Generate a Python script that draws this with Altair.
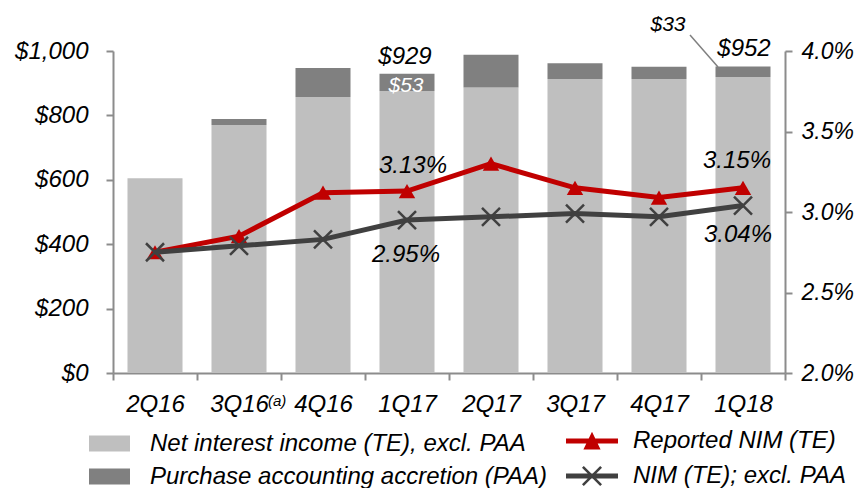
import altair as alt
import pandas as pd

# ---------------- data ----------------
quarters = ["2Q16", "3Q16", "4Q16", "1Q17", "2Q17", "3Q17", "4Q17", "1Q18"]
footnotes = ["", "(a)", "", "", "", "", "", ""]
nii = [605, 770, 857, 876, 887, 913, 913, 919]          # Net interest income (TE), excl. PAA ($M)
paa = [0, 19, 90, 53, 101, 49, 38, 33]                  # Purchase accounting accretion ($M)
nim_reported = [2.75, 2.85, 3.12, 3.13, 3.30, 3.15, 3.09, 3.15]
nim_excl = [2.75, 2.79, 2.83, 2.95, 2.97, 2.99, 2.97, 3.04]

bar_names = ["Net interest income (TE), excl. PAA", "Purchase accounting accretion (PAA)"]
line_names = ["Reported NIM (TE)", "NIM (TE); excl. PAA"]

df = pd.DataFrame({"quarter": quarters, "note": footnotes, "nii": nii, "paa": paa,
                   "rep": nim_reported, "exc": nim_excl})
df["total"] = df["nii"] + df["paa"]

bars_df = pd.DataFrame({
    "quarter": quarters * 2,
    "component": [bar_names[0]] * len(quarters) + [bar_names[1]] * len(quarters),
    "value": nii + paa,
    "ord": [0] * len(quarters) + [1] * len(quarters),
})
legend_df = pd.DataFrame({"series": line_names})

# ---------------- style ----------------
FONT = "Liberation Sans"
RED = "#C00000"
DARK = "#404040"
LIGHT = "#BFBFBF"
MID = "#808080"
AXC = "#8C8C8C"
FS = 24

x_enc = alt.X(
    "quarter:N", sort=quarters, title=None,
    scale=alt.Scale(paddingInner=0, paddingOuter=0),
    axis=alt.Axis(tickBand="extent", labelAngle=0, labelFont=FONT, labelFontSize=FS,
                  labelFontStyle="italic", labelColor="black", labelPadding=12,
                  tickSize=7, tickWidth=2, tickColor=AXC, domainColor=AXC, domainWidth=2),
)

sc_left = alt.Scale(domain=[0, 1000], nice=False)
ax_left = alt.Axis(values=[0, 200, 400, 600, 800, 1000], format="$,.0f", orient="left",
                   grid=False, labelFont=FONT, labelFontSize=FS, labelFontStyle="italic",
                   labelColor="black", labelPadding=18, tickSize=7, tickWidth=2,
                   tickColor=AXC, domainColor=AXC, domainWidth=2)

sc_right = alt.Scale(domain=[2, 4], nice=False, zero=False)
ax_right = alt.Axis(values=[2, 2.5, 3, 3.5, 4], labelExpr="format(datum.value, '.1f') + '%'",
                    orient="right", grid=False, labelFont=FONT, labelFontSize=23,
                    labelFontStyle="italic", labelColor="black", labelPadding=9,
                    tickSize=7, tickWidth=2, tickColor=AXC, domainColor=AXC, domainWidth=2)


def yl(field):
    return alt.Y(field, scale=sc_left, axis=ax_left, title=None)


def yr(field):
    return alt.Y(field, scale=sc_right, axis=ax_right, title=None)


# ---------------- left (bars, $) ----------------
bars = alt.Chart(bars_df).mark_bar(width=alt.RelativeBandSize(0.655)).encode(
    x=x_enc,
    y=alt.Y("value:Q", stack="zero", scale=sc_left, axis=ax_left, title=None),
    color=alt.Color("component:N", scale=alt.Scale(domain=bar_names, range=[LIGHT, MID]),
                    legend=alt.Legend(title=None, orient="none", legendX=-24, legendY=372,
                                      direction="vertical", padding=0,
                                      symbolType="M-1,-0.39H1V0.39H-1Z", symbolSize=1681,
                                      symbolStrokeWidth=0, labelFont=FONT, labelFontSize=FS,
                                      labelFontStyle="italic", labelColor="black",
                                      labelOffset=20, labelLimit=600, rowPadding=0)),
    order=alt.Order("ord:Q"),
)


def dollar_label(q, field, dx, dy, size=FS, color="black"):
    return alt.Chart(df).transform_filter(alt.datum.quarter == q).mark_text(
        font=FONT, fontSize=size, fontStyle="italic", color=color,
        baseline="alphabetic", align="center", dx=dx, dy=dy,
    ).encode(x=x_enc, y=yl(f"{field}:Q"), text=alt.Text(f"{field}:Q", format="$,.0f"))


t929 = dollar_label("1Q17", "total", -2, -10)
t53 = dollar_label("1Q17", "paa", -1, 1, size=21, color="white").encode(y=yl("nii:Q"))
t952 = dollar_label("1Q18", "total", 1, -10.5)
t33 = dollar_label("1Q18", "paa", -75, -35.5, size=21).encode(y=yl("total:Q"))

leader = alt.Chart(df).transform_filter(alt.datum.quarter == "1Q18").mark_rule(
    color=MID, strokeWidth=1.5, xOffset=-53, x2Offset=-25, yOffset=-31.5, y2Offset=0.5
).encode(x=x_enc, x2=alt.X2("quarter"), y=yl("total:Q"), y2=alt.Y2("total"))

# footnote marker after the category label, e.g. 3Q16(a)
notes = alt.Chart(df).transform_filter(alt.datum.note != "").mark_text(
    font=FONT, fontSize=15, fontStyle="italic", color="black",
    baseline="alphabetic", align="left", dx=29, dy=33,
).encode(x=x_enc, y=alt.YDatum(0, scale=sc_left, axis=ax_left, title=None), text="note:N")

left = alt.layer(bars, t929, t53, t952, t33, leader, notes)

# ---------------- right (NIM lines, %) ----------------
line_rep = alt.Chart(df).mark_line(color=RED, strokeWidth=5).encode(x=x_enc, y=yr("rep:Q"))
pts_rep = alt.Chart(df).mark_point(shape="triangle-up", filled=True, size=270, color=RED,
                                   opacity=1).encode(x=x_enc, y=yr("rep:Q"))
line_exc = alt.Chart(df).mark_line(color=DARK, strokeWidth=5).encode(x=x_enc, y=yr("exc:Q"))
pts_exc = alt.Chart(df).mark_point(shape="M-1,-1L1,1M-1,1L1,-1", filled=False, size=324,
                                   strokeWidth=2.5, color=DARK, opacity=1).encode(
    x=x_enc, y=yr("exc:Q"))


def pct_label(q, field, dx, dy):
    return alt.Chart(df).transform_filter(alt.datum.quarter == q).transform_calculate(
        lbl=f"format(datum.{field}, '.2f') + '%'"
    ).mark_text(font=FONT, fontSize=FS, fontStyle="italic", color="black",
                baseline="alphabetic", align="center", dx=dx, dy=dy).encode(
        x=x_enc, y=yr(f"{field}:Q"), text="lbl:N")


p313 = pct_label("1Q17", "rep", 6, -18)
p315 = pct_label("1Q18", "rep", -6, -20)
p295 = pct_label("1Q17", "exc", -1, 42)
p304 = pct_label("1Q18", "exc", -5, 36)

# legend symbols: a line segment with the series marker (path units of 13 px)
line_paths = [
    "M-2,-0.2H2V0.2H-2Z M0,-0.72L0.66,0.66L-0.66,0.66Z",
    "M-2,-0.2H2V0.2H-2Z M-0.63,-0.77L0.77,0.63L0.63,0.77L-0.77,-0.63Z "
    "M0.63,-0.77L0.77,-0.63L-0.63,0.77L-0.77,0.63Z",
]
line_legend = alt.Legend(title=None, orient="none", legendX=466, legendY=377,
                         direction="vertical", padding=0, symbolSize=676,
                         symbolStrokeWidth=0, labelFont=FONT, labelFontSize=FS,
                         labelFontStyle="italic", labelColor="black", labelOffset=28,
                         labelLimit=600, rowPadding=10)
leg = alt.Chart(legend_df).transform_filter("false").mark_point(filled=True, opacity=1).encode(
    fill=alt.Fill("series:N", scale=alt.Scale(domain=line_names, range=[RED, DARK]),
                  legend=line_legend),
    shape=alt.Shape("series:N", scale=alt.Scale(domain=line_names, range=line_paths),
                    legend=line_legend),
)

right = alt.layer(line_rep, pts_rep, line_exc, pts_exc, p313, p315, p295, p304, leg)

chart = alt.layer(left, right).resolve_scale(y="independent").properties(
    width=672, height=322,
    autosize=alt.AutoSizeParams(type="none"),
    padding={"left": 105, "top": 43, "right": 70, "bottom": 115},
    background="white",
).configure_view(stroke=None)

chart.save("out.html", embed_options={"renderer": "svg", "actions": False})
